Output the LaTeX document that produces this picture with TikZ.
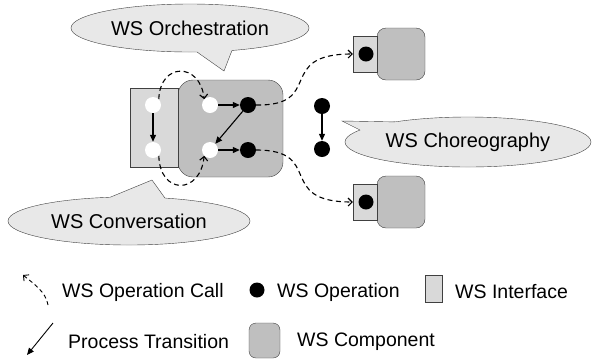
\documentclass[tikz,border=0pt]{standalone}
\usepackage{fontspec}
\setmainfont{Liberation Sans}
\usepackage{tikz}
\usetikzlibrary{arrows.meta, shapes.geometric}

\begin{document}
\begin{tikzpicture}[x=1pt, y=-1pt,
  bubble/.style={ellipse, draw=black!75, fill=black!9, inner sep=0pt, font=\fontsize{20}{23}\selectfont},
  iface/.style={rectangle, draw=black!75, fill=black!15, inner sep=0pt},
  comp/.style={rectangle, draw=black!75, fill=black!25, inner sep=0pt, rounded corners=#1},
  comp/.default=14pt,
  wsop/.style={circle, fill=black, inner sep=0pt, minimum size=16pt},
  wsin/.style={circle, fill=white, inner sep=0pt, minimum size=16pt},
  trans/.style={line width=1.1pt, -{Triangle[length=7pt, width=6pt]}},
  call/.style={line width=1.1pt, dash pattern=on 5pt off 3.5pt, -{Straight Barb[length=4pt, width=8pt]}},
  legend/.style={anchor=west, inner sep=0pt, font=\fontsize{19.5}{22}\selectfont}]
\useasboundingbox (0,0) rectangle (592,360);

% Main component with its interface
\node[comp=15pt, minimum width=105pt, minimum height=97pt] (cmp) at (230.5,128.5) {};
\node[iface, minimum width=48pt, minimum height=79pt] (ifc) at (154,127.5) {};
\node[wsin] (i1) at (153,105) {};
\node[wsin] (i2) at (153,150) {};
\node[wsin] (w1) at (210,105) {};
\node[wsin] (w2) at (210,150) {};
\node[wsop] (o1) at (248,105) {};
\node[wsop] (o2) at (248,150) {};

% Process transitions
\draw[trans] (i1) -- (i2);
\draw[trans] (w1) -- (o1);
\draw[trans] (o1) -- (w2);
\draw[trans] (w2) -- (o2);

% Partner components (top, bottom)
\node[comp=9pt, minimum width=48pt, minimum height=52pt] (tcmp) at (401,54) {};
\node[iface, minimum width=24pt, minimum height=36pt] (tif) at (365,54) {};
\node[wsop, minimum size=15pt] (to) at (366,54) {};
\node[comp=9pt, minimum width=48pt, minimum height=52pt] (bcmp) at (401,202) {};
\node[iface, minimum width=24pt, minimum height=36pt] (bif) at (365,202) {};
\node[wsop, minimum size=15pt] (bo) at (366,202) {};

% Operation calls
\draw[call] (i1.north east) .. controls (160,62) and (200,62) .. (w1.north west);
\draw[call] (i2.south east) .. controls (160,195) and (200,195) .. (w2.south west);
\draw[call] (o1.east) .. controls (325,106) and (275,54) .. (tif.west);
\draw[call] (o2.east) .. controls (325,150) and (275,202) .. (bif.west);

% Choreography operations
\node[wsop] (c1) at (322,106) {};
\node[wsop] (c2) at (322,149) {};
\draw[trans] (c1) -- (c2);

% Bubbles
\node[bubble, minimum width=238pt, minimum height=48pt] (orch) at (190,28) {WS Orchestration};
\fill[black!9] (190.8,47) -- (224,71) -- (234.1,45) -- cycle;
\draw[black!75] (197,52) -- (224,71) -- (232,50.4);

\node[bubble, minimum width=242pt, minimum height=48pt] (conv) at (129,221) {WS Conversation};
\fill[black!9] (96.2,203) -- (152,180) -- (168.5,203) -- cycle;
\draw[black!75] (110,197.3) -- (152,180) -- (165,198.1);

\node[bubble, minimum width=246pt, minimum height=50pt] (chor) at (468,142) {WS Choreography};
\fill[black!9] (370,135) -- (342,121) -- (415,122.3) -- cycle;
\draw[black!75] (360,130) -- (342,121) -- (395,121.9);

% Legend
\coordinate (lcA) at (48,305);
\coordinate (lcB) at (23,275);
\draw[call, line width=0.9pt, dash pattern=on 4pt off 3pt] (lcA) .. controls (46,292) and (34,284) .. (lcB);
\node[legend] (lcall) at (62,292) {WS Operation Call};
\node[wsop, minimum size=15pt] (lop) at (257,290) {};
\node[legend] (lopt) at (277,292) {WS Operation};
\node[iface, minimum width=17pt, minimum height=27pt] (lif) at (433.5,288.5) {};
\node[legend] (lift) at (455,292) {WS Interface};

\coordinate (lpA) at (53,323);
\coordinate (lpB) at (27,355);
\draw[trans, line width=0.9pt] (lpA) -- (lpB);
\node[legend] (lpt) at (68,342) {Process Transition};
\node[comp=7pt, minimum width=31pt, minimum height=35pt] (lcmp) at (264.5,340.5) {};
\node[legend] (lcmpt) at (297,342) {WS Component};

\end{tikzpicture}
\end{document}
